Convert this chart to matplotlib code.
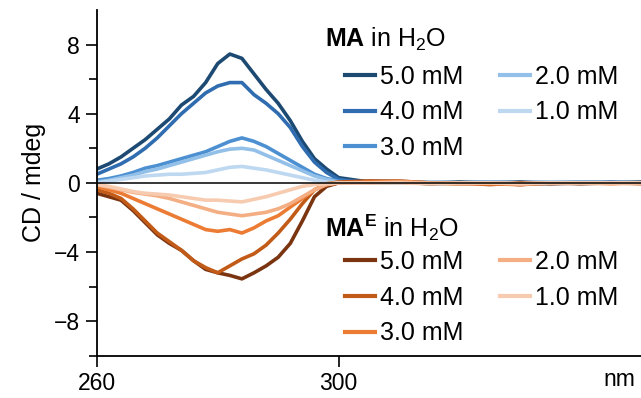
import numpy as np
import matplotlib
matplotlib.use("Agg")
import matplotlib.pyplot as plt

plt.rcParams["font.family"] = ["Liberation Sans", "DejaVu Sans"]
plt.rcParams["mathtext.fontset"] = "custom"
plt.rcParams["mathtext.rm"] = "Liberation Sans"
plt.rcParams["mathtext.bf"] = "Liberation Sans:bold"

# wavelength grid (nm)
wl = [260, 262, 264, 266, 268, 270, 272, 274, 276, 278, 280, 282, 284, 286, 288,
      290, 292, 294, 296, 298, 300, 305, 310, 315, 320, 325, 330, 335, 340, 345, 350]

conc = ["5.0 mM", "4.0 mM", "3.0 mM", "2.0 mM", "1.0 mM"]

# MA in H2O
ma_5 = [0.8, 1.1, 1.5, 2.0, 2.5, 3.1, 3.7, 4.5, 5.0, 5.8, 6.9, 7.45, 7.2, 6.3, 5.4,
        4.6, 3.6, 2.4, 1.4, 0.8, 0.3, 0.05, 0.05, 0.0, 0.05, 0.0, 0.05, 0.0, 0.05, 0.0, 0.05]
ma_4 = [0.5, 0.8, 1.1, 1.5, 2.0, 2.6, 3.3, 4.0, 4.6, 5.2, 5.6, 5.8, 5.8, 5.1, 4.6,
        4.0, 3.2, 2.1, 1.2, 0.6, 0.2, 0.0, 0.05, -0.05, 0.0, 0.05, 0.0, -0.05, 0.0, 0.05, 0.0]
ma_3 = [0.15, 0.25, 0.4, 0.6, 0.85, 1.0, 1.2, 1.4, 1.6, 1.8, 2.1, 2.4, 2.6, 2.4, 2.1,
        1.7, 1.3, 0.9, 0.5, 0.25, 0.1, 0.0, 0.0, 0.05, 0.0, -0.05, 0.0, 0.05, 0.0, 0.0, 0.0]
ma_2 = [0.05, 0.15, 0.3, 0.45, 0.65, 0.8, 1.0, 1.2, 1.4, 1.6, 1.8, 1.95, 2.0, 1.9, 1.6,
        1.3, 1.0, 0.7, 0.4, 0.2, 0.05, 0.0, 0.05, 0.0, 0.0, 0.05, 0.0, 0.0, 0.05, 0.0, 0.0]
ma_1 = [0.0, 0.1, 0.2, 0.3, 0.4, 0.45, 0.5, 0.5, 0.55, 0.6, 0.75, 0.9, 0.95, 0.85, 0.75,
        0.6, 0.45, 0.3, 0.15, 0.05, 0.0, 0.0, 0.0, 0.05, 0.0, 0.0, 0.0, 0.05, 0.0, 0.0, 0.0]

# MA^E in H2O
mae_5 = [-0.6, -0.8, -1.0, -1.6, -2.3, -3.0, -3.5, -3.9, -4.5, -5.0, -5.2, -5.35, -5.55, -5.2, -4.8,
         -4.3, -3.5, -2.2, -0.8, -0.2, 0.0, 0.1, 0.1, 0.0, -0.05, 0.0, -0.1, 0.0, -0.05, 0.0, 0.0]
mae_4 = [-0.4, -0.6, -0.9, -1.5, -2.2, -2.9, -3.4, -3.9, -4.5, -4.9, -5.2, -4.8, -4.4, -4.1, -3.6,
         -2.9, -2.1, -1.2, -0.4, -0.05, 0.05, 0.1, 0.05, -0.05, 0.0, -0.1, 0.0, -0.05, 0.0, 0.0, -0.05]
mae_3 = [-0.2, -0.4, -0.6, -0.9, -1.2, -1.5, -1.8, -2.1, -2.4, -2.7, -2.8, -2.7, -2.9, -2.6, -2.2,
         -1.9, -1.4, -0.9, -0.4, -0.1, 0.0, 0.05, 0.1, 0.0, -0.05, -0.05, -0.1, 0.0, 0.0, -0.05, 0.0]
mae_2 = [-0.1, -0.25, -0.4, -0.55, -0.65, -0.75, -0.9, -1.1, -1.3, -1.5, -1.7, -1.8, -1.9, -1.8, -1.7,
         -1.5, -1.2, -0.8, -0.4, -0.1, 0.0, 0.0, 0.05, 0.0, -0.05, 0.0, -0.05, 0.0, 0.0, 0.0, 0.0]
mae_1 = [-0.1, -0.2, -0.35, -0.5, -0.6, -0.65, -0.7, -0.8, -0.9, -1.0, -1.0, -1.05, -1.1, -0.95, -0.8,
         -0.6, -0.4, -0.2, -0.1, -0.05, 0.0, 0.0, 0.0, -0.05, 0.0, 0.0, -0.05, 0.0, 0.0, 0.0, 0.0]

ma_colors = ["#1d4a73", "#2f6db0", "#4d90d2", "#93c0e8", "#bdd8f0"]
mae_colors = ["#7a3410", "#c25b18", "#ec7b33", "#f4ae84", "#f7cbb0"]

fig = plt.figure(figsize=(6.41, 3.98), dpi=100)
ax = fig.add_axes([0.151, 0.106, 0.849, 0.869])

ma_lines = []
for ys, c in zip([ma_5, ma_4, ma_3, ma_2, ma_1], ma_colors):
    ln, = ax.plot(wl, ys, color=c, lw=2.6, solid_joinstyle="round")
    ma_lines.append(ln)
mae_lines = []
for ys, c in zip([mae_5, mae_4, mae_3, mae_2, mae_1], mae_colors):
    ln, = ax.plot(wl, ys, color=c, lw=2.6, solid_joinstyle="round")
    mae_lines.append(ln)

ax.axhline(0, color="black", lw=1.1, zorder=5)

ax.set_xlim(260, 350)
ax.set_ylim(-10, 10)
ax.set_xticks([260, 300])
ax.set_yticks([-8, -4, 0, 4, 8])
ax.set_yticks([-10, -6, -2, 2, 6], minor=True)
ax.set_yticklabels(["\u22128", "\u22124", "0", "4", "8"])
ax.tick_params(axis="both", which="major", labelsize=16.5, length=8, width=1.2, pad=4)
ax.tick_params(axis="y", which="minor", length=6, width=1.2)
for s in ["top", "right"]:
    ax.spines[s].set_visible(False)
for s in ["left", "bottom"]:
    ax.spines[s].set_linewidth(1.3)

ax.set_ylabel("CD / mdeg", fontsize=18, labelpad=6)
ax.text(0.961, -0.035, "nm", transform=ax.transAxes, ha="center", va="top", fontsize=16.5)

leg_kw = dict(ncol=2, loc="upper left", frameon=False, fontsize=18, handlelength=1.2,
              handletextpad=0.2, labelspacing=0.47, columnspacing=1.45, borderaxespad=0,
              borderpad=0)
leg1 = ax.legend(ma_lines, conc, bbox_to_anchor=(0.456, 0.842), **leg_kw)
for h in leg1.legend_handles:
    h.set_linewidth(3)
ax.add_artist(leg1)
leg2 = ax.legend(mae_lines, conc, bbox_to_anchor=(0.456, 0.306), **leg_kw)
for h in leg2.legend_handles:
    h.set_linewidth(3)

ax.text(0.419, 0.893, r"$\mathbf{MA}$ in H$_2$O", transform=ax.transAxes,
        ha="left", va="baseline", fontsize=18)
ax.text(0.419, 0.344, r"$\mathbf{MA^E}$ in H$_2$O", transform=ax.transAxes,
        ha="left", va="baseline", fontsize=18)

fig.savefig("out.png", dpi=100)
